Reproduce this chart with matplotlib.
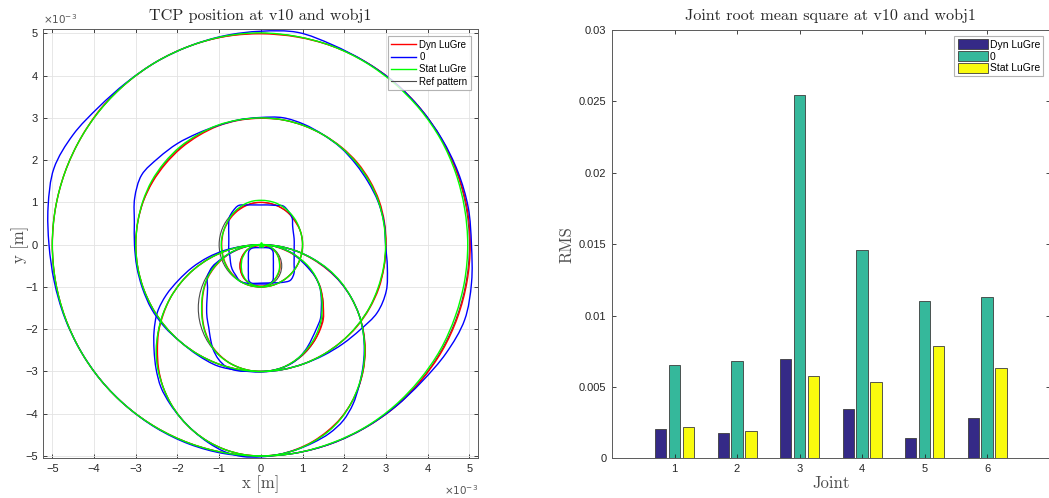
import numpy as np
import matplotlib
matplotlib.use("Agg")
from matplotlib import pyplot as plt
from matplotlib.patches import Circle, PathPatch
from matplotlib.path import Path

# ---- left plot: TCP path (values in 1e-3 m) ----
# reference circles of the pattern
ref_cx = [0.0, 0.0, 0.0, 0.0, 0.0, 0.0]
ref_cy = [0.0, 0.0, 0.0, -0.5, -1.5, -2.5]
ref_r = [5.0, 3.0, 1.0, 0.5, 1.5, 2.5]

angles = [0, 10, 20, 30, 40, 50, 60, 70, 80, 90, 100, 110,
          120, 130, 140, 150, 160, 170, 180, 190, 200, 210, 220, 230,
          240, 250, 260, 270, 280, 290, 300, 310, 320, 330, 340, 350]

# measured radius per loop, Dyn LuGre
dyn_r5 = [5.02, 5.02, 5.01, 5.0, 5.0, 5.0, 5.0, 5.0, 4.99, 4.99, 5.0, 5.0,
          5.0, 5.0, 5.01, 5.0, 5.0, 5.0, 5.0, 5.0, 5.0, 5.0, 5.0, 5.0,
          5.0, 5.0, 5.0, 5.0, 5.0, 5.0, 5.0, 5.01, 5.01, 5.02, 5.02, 5.02]
dyn_r3 = [3.0, 3.01, 3.02, 3.02, 3.02, 3.01, 3.0, 3.0, 3.0, 2.99, 2.99, 2.99,
          2.98, 2.98, 2.98, 2.99, 3.0, 3.0, 3.0, 3.0, 3.0, 3.0, 3.0, 3.0,
          3.0, 3.0, 3.0, 3.0, 3.0, 3.0, 3.0, 3.0, 3.01, 3.01, 3.01, 3.0]
dyn_r1 = [1.0, 1.0, 1.0, 0.99, 0.99, 1.0, 1.0, 1.0, 1.0, 1.0, 1.0, 0.99,
          0.98, 0.97, 0.96, 0.95, 0.95, 0.94, 0.94, 0.94, 0.95, 0.96, 0.97, 0.98,
          0.99, 1.0, 1.0, 1.0, 1.0, 1.0, 1.0, 1.0, 1.0, 1.0, 1.0, 1.0]
dyn_r05 = [0.46, 0.46, 0.47, 0.47, 0.48, 0.48, 0.48, 0.48, 0.48, 0.48, 0.48, 0.48,
           0.49, 0.5, 0.5, 0.5, 0.5, 0.5, 0.5, 0.5, 0.5, 0.5, 0.5, 0.49,
           0.48, 0.48, 0.48, 0.48, 0.48, 0.47, 0.47, 0.46, 0.46, 0.46, 0.46, 0.46]
dyn_r15 = [1.5, 1.5, 1.51, 1.5, 1.49, 1.49, 1.49, 1.49, 1.5, 1.5, 1.5, 1.49,
           1.49, 1.48, 1.47, 1.46, 1.44, 1.42, 1.41, 1.42, 1.44, 1.46, 1.48, 1.49,
           1.5, 1.5, 1.5, 1.5, 1.5, 1.5, 1.49, 1.49, 1.49, 1.5, 1.51, 1.52]
dyn_r25 = [2.5, 2.5, 2.5, 2.5, 2.5, 2.49, 2.49, 2.5, 2.5, 2.5, 2.5, 2.5,
           2.5, 2.5, 2.5, 2.5, 2.49, 2.49, 2.48, 2.49, 2.5, 2.5, 2.5, 2.5,
           2.5, 2.5, 2.5, 2.5, 2.5, 2.49, 2.49, 2.49, 2.5, 2.5, 2.5, 2.5]

# measured radius per loop, 0
zero_r5 = [5.05, 5.05, 5.03, 5.01, 5.0, 5.0, 5.0, 5.03, 5.1, 5.05, 5.02, 5.0,
           5.0, 5.01, 5.07, 5.2, 5.28, 5.18, 5.08, 5.03, 5.01, 5.0, 5.0, 5.0,
           5.01, 5.02, 5.02, 5.0, 5.0, 5.0, 5.0, 5.01, 5.04, 5.13, 5.2, 5.13]
zero_r3 = [2.99, 3.0, 2.99, 2.97, 2.97, 2.99, 3.0, 3.03, 3.05, 3.01, 3.0, 3.0,
           3.04, 3.12, 3.2, 3.3, 3.22, 3.08, 3.03, 3.02, 3.02, 3.03, 3.02, 3.0,
           3.02, 3.05, 3.02, 3.01, 3.0, 3.0, 3.02, 3.06, 3.12, 3.22, 3.2, 3.08]
zero_r1 = [0.8, 0.81, 0.83, 0.88, 0.98, 1.03, 1.06, 0.99, 0.955, 0.94, 0.955, 1.0,
           1.07, 1.04, 0.99, 0.89, 0.82, 0.78, 0.77, 0.78, 0.79, 0.84, 0.9, 0.94,
           1.0, 0.97, 0.93, 0.91, 0.92, 0.96, 1.03, 1.1, 1.04, 0.92, 0.85, 0.81]
zero_r05 = [0.3, 0.305, 0.32, 0.345, 0.39, 0.45, 0.47, 0.455, 0.437, 0.43, 0.437, 0.455,
            0.47, 0.45, 0.39, 0.345, 0.32, 0.305, 0.3, 0.305, 0.32, 0.345, 0.39, 0.45,
            0.47, 0.455, 0.437, 0.43, 0.437, 0.455, 0.47, 0.45, 0.39, 0.345, 0.32, 0.305]
zero_r15 = [1.45, 1.47, 1.5, 1.5, 1.48, 1.48, 1.5, 1.5, 1.5, 1.5, 1.5, 1.5,
            1.49, 1.5, 1.52, 1.48, 1.36, 1.31, 1.3, 1.31, 1.33, 1.4, 1.5, 1.58,
            1.62, 1.58, 1.52, 1.5, 1.5, 1.5, 1.5, 1.48, 1.45, 1.42, 1.42, 1.45]
zero_r25 = [2.48, 2.49, 2.5, 2.5, 2.5, 2.5, 2.5, 2.5, 2.5, 2.5, 2.5, 2.52,
            2.54, 2.56, 2.58, 2.62, 2.64, 2.6, 2.56, 2.55, 2.55, 2.52, 2.5, 2.5,
            2.52, 2.55, 2.55, 2.52, 2.5, 2.5, 2.52, 2.56, 2.58, 2.55, 2.5, 2.48]

# measured radius per loop, Stat LuGre
stat_r5 = [4.96, 4.96, 4.97, 4.98, 4.98, 4.98, 4.99, 5.0, 5.0, 5.01, 5.01, 5.0,
           5.0, 5.0, 5.0, 5.0, 5.0, 5.0, 5.0, 5.0, 5.0, 5.0, 5.0, 5.0,
           5.0, 5.0, 5.0, 5.0, 5.0, 4.99, 4.99, 4.98, 4.97, 4.97, 4.96, 4.96]
stat_r3 = [2.99, 2.99, 3.0, 3.0, 3.0, 3.0, 3.0, 3.0, 3.0, 3.0, 3.0, 3.01,
           3.01, 3.02, 3.02, 3.02, 3.01, 3.0, 3.0, 3.0, 3.0, 3.0, 3.0, 3.0,
           3.0, 3.0, 3.0, 3.0, 3.0, 3.0, 3.0, 3.0, 3.0, 3.0, 2.99, 2.99]
stat_r1 = [1.0, 1.0, 1.0, 1.01, 1.02, 1.03, 1.04, 1.05, 1.05, 1.05, 1.05, 1.04,
           1.02, 1.0, 0.98, 0.96, 0.95, 0.95, 0.95, 0.95, 0.96, 0.97, 0.98, 0.99,
           1.0, 1.0, 1.0, 1.0, 1.0, 1.0, 1.0, 1.0, 1.0, 1.0, 1.0, 1.0]
stat_r05 = [0.45, 0.45, 0.46, 0.47, 0.48, 0.49, 0.5, 0.5, 0.5, 0.5, 0.5, 0.5,
            0.5, 0.5, 0.49, 0.48, 0.48, 0.47, 0.47, 0.47, 0.48, 0.48, 0.49, 0.49,
            0.49, 0.49, 0.49, 0.49, 0.49, 0.48, 0.48, 0.47, 0.46, 0.45, 0.45, 0.45]
stat_r15 = [1.47, 1.48, 1.5, 1.51, 1.51, 1.5, 1.5, 1.5, 1.5, 1.5, 1.5, 1.5,
            1.5, 1.49, 1.48, 1.47, 1.45, 1.43, 1.42, 1.43, 1.45, 1.47, 1.49, 1.5,
            1.5, 1.5, 1.5, 1.5, 1.5, 1.5, 1.49, 1.48, 1.47, 1.47, 1.47, 1.47]
stat_r25 = [2.49, 2.49, 2.5, 2.5, 2.51, 2.51, 2.5, 2.5, 2.5, 2.5, 2.5, 2.5,
            2.5, 2.5, 2.5, 2.5, 2.5, 2.5, 2.51, 2.51, 2.5, 2.5, 2.5, 2.5,
            2.5, 2.5, 2.5, 2.5, 2.5, 2.5, 2.5, 2.51, 2.51, 2.5, 2.49, 2.49]

dyn_loops = [dyn_r5, dyn_r3, dyn_r1, dyn_r05, dyn_r15, dyn_r25]
zero_loops = [zero_r5, zero_r3, zero_r1, zero_r05, zero_r15, zero_r25]
stat_loops = [stat_r5, stat_r3, stat_r1, stat_r05, stat_r15, stat_r25]

start_x = [0.0]
start_y = [0.0]

# ---- right plot: joint RMS ----
joints = [1, 2, 3, 4, 5, 6]
rms_dyn = [0.00203, 0.00175, 0.00698, 0.00348, 0.00142, 0.00282]
rms_zero = [0.00651, 0.00684, 0.02545, 0.01457, 0.01102, 0.01128]
rms_stat = [0.00217, 0.00189, 0.00579, 0.00532, 0.00784, 0.0063]

label_font = "cmr10"
tick_font = "Liberation Sans"
txt_col = "#262626"


def loop_path(cx, cy, radii):
    # closed smooth path (Bezier segments) through the read points
    th = np.deg2rad(angles)
    rr = np.array(radii)
    p = np.column_stack([cx + rr * np.cos(th), cy + rr * np.sin(th)])
    n = len(p)
    verts = [p[0]]
    codes = [Path.MOVETO]
    for i in range(n):
        p0, p1, p2, p3 = p[i - 1], p[i], p[(i + 1) % n], p[(i + 2) % n]
        verts += [p1 + (p2 - p0) / 6, p2 - (p3 - p1) / 6, p2]
        codes += [Path.CURVE4] * 3
    return Path(verts, codes)


def draw_loops(ax, loops, color, z, label):
    for k in range(len(ref_r)):
        ax.add_patch(PathPatch(loop_path(ref_cx[k], ref_cy[k], loops[k]),
                               fill=False, ec=color, lw=1.0, zorder=z))
    ax.plot([], [], color=color, lw=1.0, label=label)


def style_axes(ax):
    ax.tick_params(direction="in", top=True, right=True, length=3,
                   width=0.6, labelsize=8, colors=txt_col, pad=4)
    for s in ax.spines.values():
        s.set_color("#5a5a5a")
        s.set_linewidth(0.7)
    for lab in ax.get_xticklabels() + ax.get_yticklabels():
        lab.set_fontfamily(tick_font)


fig = plt.figure(figsize=(10.49, 4.98), dpi=100)

# left axes
ax1 = fig.add_axes([0.0413, 0.0797, 0.4141, 0.8614])
for cx, cy, r in zip(ref_cx, ref_cy, ref_r):
    ax1.add_patch(Circle((cx, cy), r, fill=False, ec="#4a4a4a", lw=0.8, zorder=2))
draw_loops(ax1, dyn_loops, "#ff0000", 3, "Dyn LuGre")
draw_loops(ax1, zero_loops, "#0000ff", 4, "0")
draw_loops(ax1, stat_loops, "#00ff00", 5, "Stat LuGre")
ax1.plot([], [], color="#4a4a4a", lw=0.8, label="Ref pattern")
ax1.plot(start_x, start_y, marker="*", ms=4, color="#00ff00", zorder=6)

ax1.set_xlim(-5.216, 5.2)
ax1.set_ylim(-5.054, 5.095)
ax1.set_xticks(range(-5, 6))
ax1.set_yticks(range(-5, 6))
ax1.grid(True, color="#e3e3e3", lw=0.6)
ax1.set_axisbelow(True)
style_axes(ax1)
ax1.set_title("TCP position at v10 and wobj1", fontfamily=label_font,
              fontsize=11.6, color=txt_col, pad=7)
ax1.set_xlabel("x [m]", fontfamily=label_font, fontsize=12, color="#4d4d4d", labelpad=1)
ax1.set_ylabel("y [m]", fontfamily=label_font, fontsize=12, color="#4d4d4d", labelpad=-3)
ax1.text(0.0, 1.008, r"$\times10^{-3}$", transform=ax1.transAxes, fontsize=7.5,
         color="#555555", ha="left", va="bottom")
ax1.text(1.0, -0.058, r"$\times10^{-3}$", transform=ax1.transAxes, fontsize=7.5,
         color="#555555", ha="right", va="top")
leg1 = ax1.legend(loc="upper right", fontsize=7, frameon=True, fancybox=False,
                  handlelength=2.6, handletextpad=0.3, borderpad=0.35,
                  labelspacing=0.25, borderaxespad=0.7)
leg1.get_frame().set_edgecolor("#a0a0a0")
leg1.get_frame().set_linewidth(0.8)
for t in leg1.get_texts():
    t.set_fontfamily(tick_font)

# right axes
ax2 = fig.add_axes([0.5834, 0.0797, 0.4172, 0.860])
jx = np.array(joints, dtype=float)
bw = 0.18
ax2.bar(jx - 0.222, rms_dyn, bw, color="#352a87", ec="#3c3c3c", lw=0.6, label="Dyn LuGre")
ax2.bar(jx, rms_zero, bw, color="#35b89b", ec="#3c3c3c", lw=0.6, label="0")
ax2.bar(jx + 0.222, rms_stat, bw, color="#f9fb0e", ec="#3c3c3c", lw=0.6, label="Stat LuGre")
ax2.set_xlim(0, 7)
ax2.set_ylim(0, 0.03)
ax2.set_xticks(joints)
ax2.set_yticks([0, 0.005, 0.01, 0.015, 0.02, 0.025, 0.03])
ax2.set_yticklabels(["0", "0.005", "0.01", "0.015", "0.02", "0.025", "0.03"])
style_axes(ax2)
ax2.set_title("Joint root mean square at v10 and wobj1", fontfamily=label_font,
              fontsize=11.6, color=txt_col, pad=7)
ax2.set_xlabel("Joint", fontfamily=label_font, fontsize=12, color="#4d4d4d", labelpad=1)
ax2.set_ylabel("RMS", fontfamily=label_font, fontsize=12, color="#4d4d4d", labelpad=3)
leg2 = ax2.legend(loc="upper right", fontsize=7.5, frameon=True, fancybox=False,
                  handlelength=2.9, handleheight=1.1, handletextpad=0.2,
                  borderpad=0.3, labelspacing=0.1, borderaxespad=0.6)
leg2.get_frame().set_edgecolor("#a0a0a0")
leg2.get_frame().set_linewidth(0.8)
for t in leg2.get_texts():
    t.set_fontfamily(tick_font)

fig.savefig("out.png", dpi=100)
